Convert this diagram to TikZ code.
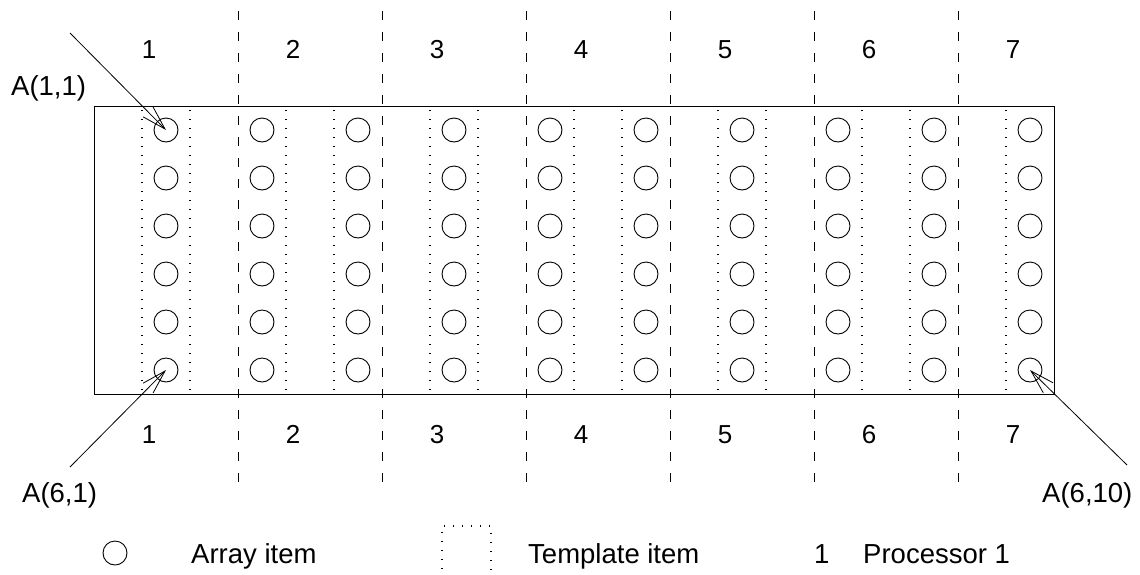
\documentclass[tikz,border=0pt]{standalone}
\usepackage{fontspec}
\setmainfont{Liberation Sans}
\usetikzlibrary{arrows.meta}
\begin{document}
\begin{tikzpicture}[x=1pt,y=-1pt,
  every node/.style={inner sep=0pt},
  numfont/.style={font=\fontsize{26}{30}\selectfont},
  txtfont/.style={font=\fontsize{27.5}{32}\selectfont},
  arritem/.style={circle,draw,line width=0.9pt,minimum size=24pt,inner sep=0pt},
  procline/.style={line width=0.9pt,dash pattern=on 9pt off 12pt},
  tmplline/.style={line width=1.4pt,dash pattern=on 1.2pt off 7.8pt},
  frameline/.style={line width=0.9pt},
  ptr/.style={line width=0.8pt,-{Straight Barb[length=24pt,width=14pt,line width=0.8pt]}}
]
\useasboundingbox (0,0) rectangle (1140,574);

% frame
\draw[frameline] (94,106) rectangle (1054,394);

% template item boundaries (dotted)
\foreach \x in {142,190,286,334,430,478,574,622,718,766,862,910,1006}
  \draw[tmplline] (\x,110) -- (\x,394);

% processor boundaries (dashed)
\foreach \k in {0,...,5}
  \draw[procline] ({238+144*\k},11) -- ({238+144*\k},492);

% array items
\foreach \i in {1,...,10}
  \foreach \j in {1,...,6}
    \node[arritem] (c-\j-\i) at ({166+96*(\i-1)},{130+48*(\j-1)}) {};

% processor labels
\foreach \k in {1,...,7} {
  \node[numfont,anchor=base] (pt\k) at ({149+144*(\k-1)},58) {\k};
  \node[numfont,anchor=base] (pb\k) at ({149+144*(\k-1)},443) {\k};
}

% element labels and pointers
\node[txtfont,anchor=base west] (l11) at (11,95) {A(1,1)};
\node[txtfont,anchor=base west] (l61) at (22,502) {A(6,1)};
\node[txtfont,anchor=base west] (l610) at (1042,502) {A(6,10)};
\coordinate (s11) at (70,33);
\coordinate (s61) at (70,467);
\coordinate (s610) at (1127,465);
\draw[ptr] (s11) -- (c-1-1.center);
\draw[ptr] (s61) -- (c-6-1.center);
\draw[ptr] (s610) -- (c-6-10.center);

% legend
\node[arritem] (lgc) at (115,553) {};
\node[txtfont,anchor=base west] (lga) at (191,563) {Array item};
\draw[tmplline] (442,578) -- (442,526) -- (491,526) -- (491,578);
\node[txtfont,anchor=base west] (lgt) at (528,563) {Template item};
\node[txtfont,anchor=base west] (lgn) at (814,563) {1};
\node[txtfont,anchor=base west] (lgp) at (863,563) {Processor 1};
\end{tikzpicture}
\end{document}
